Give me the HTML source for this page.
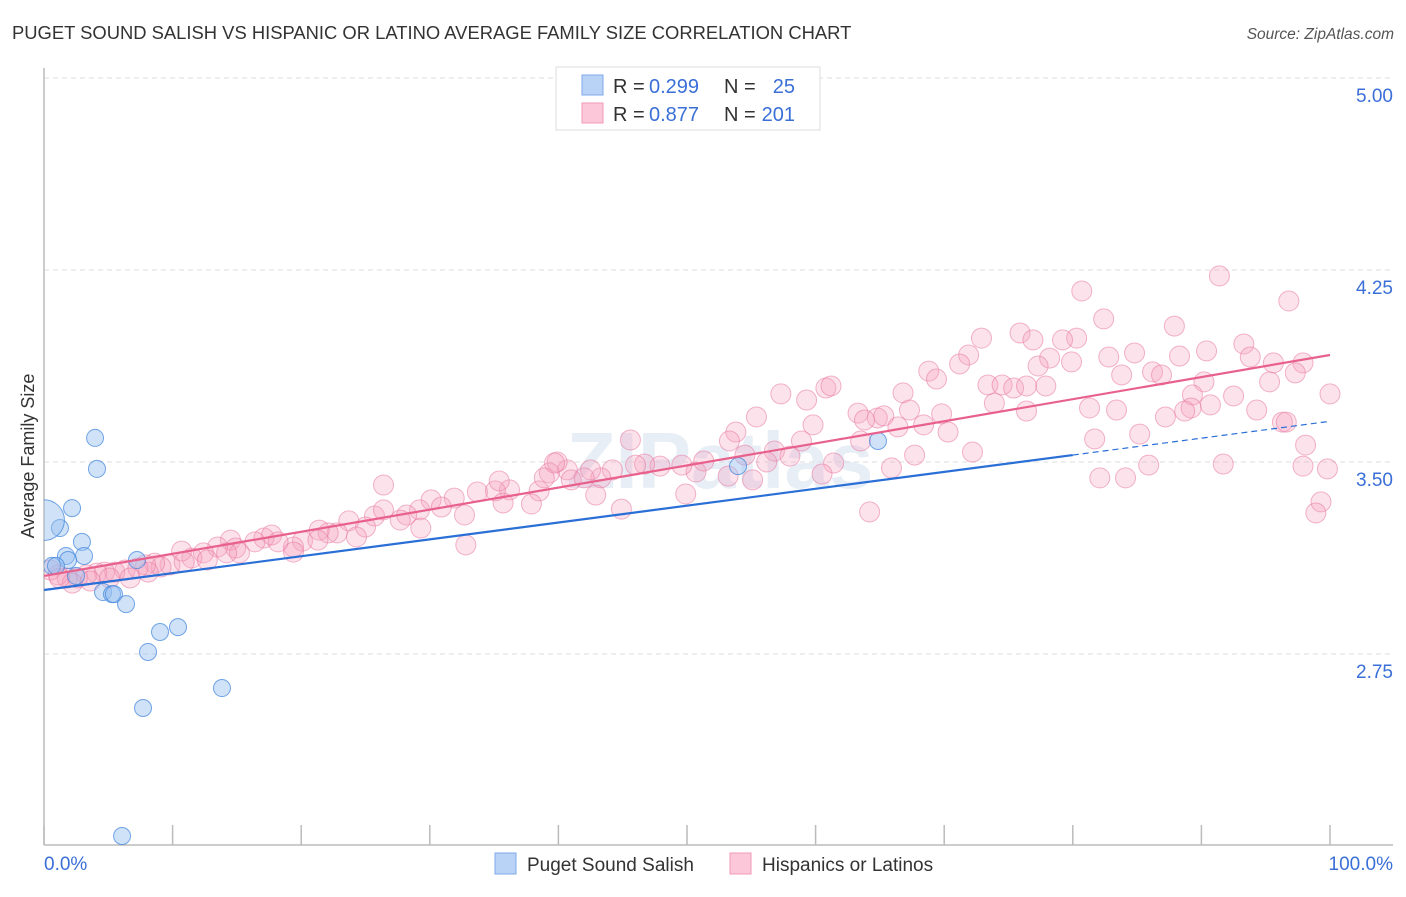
<!DOCTYPE html>
<html><head><meta charset="utf-8"><style>
body{margin:0;background:#fff;font-family:"Liberation Sans",sans-serif;}
svg text{font-family:"Liberation Sans",sans-serif;}
</style></head><body>
<svg id="chart" width="1406" height="892" viewBox="0 0 1406 892" xmlns="http://www.w3.org/2000/svg">
<defs><clipPath id="plotclip"><rect x="44" y="60" width="1360" height="785"/></clipPath></defs>
<text x="12" y="39" font-size="18.4" fill="#333">PUGET SOUND SALISH VS HISPANIC OR LATINO AVERAGE FAMILY SIZE CORRELATION CHART</text>
<text x="1394" y="39" font-size="15.5" fill="#555" text-anchor="end" font-style="italic">Source: ZipAtlas.com</text>
<text x="720" y="488" font-size="80" fill="#e8eef6" text-anchor="middle" font-family="Liberation Serif" font-weight="bold">ZIPatlas</text>
<g id="grid"></g>
<g id="axes"></g>
<g id="pink" clip-path="url(#plotclip)"></g>
<g id="blue" clip-path="url(#plotclip)"></g>
<g id="lines"></g>
<text transform="translate(34,456) rotate(-90)" font-size="18" fill="#333" text-anchor="middle">Average Family Size</text>
<text x="44" y="870" font-size="19" fill="#3a6fd8">0.0%</text>
<text x="1393" y="870" font-size="19" fill="#3a6fd8" text-anchor="end">100.0%</text>
<g>
<rect x="556" y="67" width="264" height="63" fill="#fff" stroke="#ddd"/>
<rect x="582" y="75" width="21" height="20" fill="#b9d3f7" stroke="#7fa9e8"/>
<rect x="582" y="103" width="21" height="20" fill="#fcc7d8" stroke="#f09ab8"/>
<text x="613" y="93" font-size="20" fill="#333">R =</text>
<text x="649" y="93" font-size="20" fill="#3a6fd8">0.299</text>
<text x="724" y="93" font-size="20" fill="#333">N =</text>
<text x="795" y="93" font-size="20" fill="#3a6fd8" text-anchor="end">25</text>
<text x="613" y="121" font-size="20" fill="#333">R =</text>
<text x="649" y="121" font-size="20" fill="#3a6fd8">0.877</text>
<text x="724" y="121" font-size="20" fill="#333">N =</text>
<text x="795" y="121" font-size="20" fill="#3a6fd8" text-anchor="end">201</text>
</g>
<g>
<rect x="495" y="853" width="21" height="21" fill="#b9d3f7" stroke="#7fa9e8"/>
<text x="527" y="871" font-size="19" fill="#333">Puget Sound Salish</text>
</g>
<g>
<rect x="730" y="853" width="21" height="21" fill="#fcc7d8" stroke="#f09ab8"/>
<text x="762" y="871" font-size="19" fill="#333">Hispanics or Latinos</text>
</g>
</svg>
<script>
const yTicks=[5.00,4.25,3.50,2.75];
const yTickLabels=["5.00","4.25","3.50","2.75"];
const xTicks=[0,10,20,30,40,50,60,70,80,90,100];
const blueX=[3.97,4.12,2.18,1.24,2.95,1.71,3.11,0.62,1.87,2.49,4.59,5.29,5.44,6.38,9.02,10.42,8.09,7.70,13.84,6.07,7.23,64.85,53.97,0,0.93];
const blueY=[3.594,3.473,3.320,3.242,3.188,3.133,3.133,3.094,3.117,3.055,2.992,2.984,2.984,2.945,2.836,2.855,2.758,2.539,2.617,2.039,3.117,3.582,3.484,3.273,3.094];
const blueSize=[1,1,1,1,1,1,1,1,1,1,1,1,1,1,1,1,1,1,1,1,1,1,1,2.4,1];
const pinkX=[91.4,80.7,96.8,82.4,87.9,75.9,80.3,76.9,79.2,72.9,93.3,84.8,90.4,82.8,78.2,93.8,71.9,88.3,77.3,79.9,97.9,68.8,71.2,86.2,95.6,86.9,83.8,97.3,69.4,95.3,90.2,73.4,74.5,75.4,76.4,77.9,60.8,57.3,66.8,89.3,100,92.5,59.3,61.2,73.9,81.3,83.4,89.2,90.7,94.3,88.7,87.2,96.3,76.4,63.3,67.3,69.8,70.3,64.8,63.8,65.3,66.4,68.4,55.4,59.8,53.8,81.7,85.2,98.1,96.6,45.6,53.3,63.5,58.9,56.8,58.0,54.5,56.2,72.2,67.7,85.9,91.7,97.9,99.8,65.9,61.4,60.5,84.1,50.7,53.2,51.3,49.6,47.9,46.7,46.0,44.2,43.3,42.5,40.7,41.0,42.0,39.9,39.3,38.5,38.9,36.2,35.1,33.7,35.4,31.9,32.7,30.1,30.9,29.2,28.2,25.7,26.4,27.7,25.0,23.7,22.8,22.1,21.4,20.1,19.4,17.1,17.7,16.4,14.5,14.9,13.5,12.4,11.5,10.7,9.8,9.1,8.6,7.9,6.3,5.5,4.7,4.1,3.3,2.6,1.8,1.1,0.5,2.2,32.8,26.4,39.7,64.2,99.3,98.9,44.9,49.9,42.9,35.7,37.9,29.3,15.2,19.4,12.7,8.1,7.3,5.1,24.3,18.2,21.3,14.2,10.9,6.7,3.6,1.2,82.1,55.1];
const pinkY=[4.227,4.168,4.129,4.059,4.031,4.004,3.984,3.977,3.977,3.984,3.961,3.926,3.934,3.910,3.906,3.910,3.918,3.914,3.875,3.891,3.887,3.855,3.883,3.852,3.887,3.840,3.840,3.848,3.824,3.813,3.813,3.801,3.801,3.789,3.797,3.797,3.789,3.766,3.770,3.762,3.766,3.758,3.742,3.797,3.730,3.711,3.703,3.711,3.723,3.703,3.699,3.676,3.656,3.699,3.691,3.703,3.688,3.617,3.672,3.664,3.680,3.637,3.645,3.676,3.645,3.617,3.590,3.609,3.566,3.656,3.586,3.582,3.582,3.582,3.543,3.523,3.527,3.5,3.539,3.527,3.488,3.492,3.484,3.473,3.477,3.496,3.453,3.438,3.461,3.445,3.504,3.488,3.484,3.492,3.488,3.469,3.438,3.469,3.469,3.430,3.438,3.5,3.457,3.387,3.438,3.391,3.387,3.383,3.426,3.359,3.293,3.352,3.324,3.313,3.293,3.289,3.313,3.273,3.246,3.270,3.223,3.223,3.234,3.191,3.168,3.203,3.215,3.188,3.195,3.164,3.168,3.145,3.125,3.152,3.098,3.090,3.105,3.098,3.078,3.070,3.070,3.066,3.059,3.047,3.047,3.059,3.078,3.027,3.176,3.410,3.496,3.305,3.344,3.301,3.316,3.375,3.371,3.340,3.336,3.242,3.145,3.148,3.117,3.070,3.086,3.047,3.207,3.188,3.195,3.145,3.109,3.047,3.035,3.047,3.438,3.430];
const blueTrend=[3.0,0.00659];
const pinkTrend=[3.055,0.00863];
const blueSolidEnd=80;

const NS="http://www.w3.org/2000/svg";
const X0=44,X1=1330,YREF=462;
function sx(v){return X0+(v/100)*(X1-X0);}
function sy(v){return YREF-(v-3.5)*256;}
function mk(tag,attrs,parent){const e=document.createElementNS(NS,tag);for(const k in attrs)e.setAttribute(k,attrs[k]);parent.appendChild(e);return e;}

const grid=document.getElementById('grid');
yTicks.forEach((t,i)=>{
  const l=mk('line',{x1:44,x2:1393,y1:sy(t),y2:sy(t),stroke:'#ddd','stroke-dasharray':'5,4'},grid);
  
  
  const tx=mk('text',{x:1393,y:sy(t)+24,'font-size':19,fill:'#3a6fd8','text-anchor':'end'},grid);
  tx.textContent=yTickLabels[i];
  
  
});
const axes=document.getElementById('axes');
const ya=mk('line',{x1:44,x2:44,y1:68,y2:845,stroke:'#bbb','stroke-width':1.5},axes);


const xa=mk('line',{x1:44,x2:1393,y1:845,y2:845,stroke:'#bbb','stroke-width':1.5},axes);


xTicks.forEach(t=>{
  const l=mk('line',{x1:sx(t),x2:sx(t),y1:825,y2:845,stroke:'#bbb','stroke-width':1.5},axes);
  
  
});
const pg=document.getElementById('pink');
pinkX.forEach((x,i)=>{
  const c=mk('circle',{cx:sx(x),cy:sy(pinkY[i]),r:10,fill:'rgba(244,160,188,0.3)',stroke:'rgba(232,120,160,0.55)','stroke-width':1},pg);
  
  
});
const bg=document.getElementById('blue');
blueX.forEach((x,i)=>{
  const c=mk('circle',{cx:sx(x),cy:sy(blueY[i]),r:8.5*blueSize[i],fill:'rgba(150,190,240,0.45)',stroke:'rgba(60,130,220,0.7)','stroke-width':1},bg);
  
  
});
const lg=document.getElementById('lines');
const bs=mk('line',{x1:sx(0),y1:sy(blueTrend[0]),x2:sx(blueSolidEnd),y2:sy(blueTrend[0]+blueTrend[1]*blueSolidEnd),stroke:'#2a6fd6','stroke-width':2.2},lg);


const bd=mk('line',{x1:sx(blueSolidEnd),y1:sy(blueTrend[0]+blueTrend[1]*blueSolidEnd),x2:sx(100),y2:sy(blueTrend[0]+blueTrend[1]*100),stroke:'#2a6fd6','stroke-width':1.2,'stroke-dasharray':'6,4'},lg);


const pl=mk('line',{x1:sx(0),y1:sy(pinkTrend[0]),x2:sx(100),y2:sy(pinkTrend[0]+pinkTrend[1]*100),stroke:'#e8618c','stroke-width':2.2},lg);


</script>
</body></html>
